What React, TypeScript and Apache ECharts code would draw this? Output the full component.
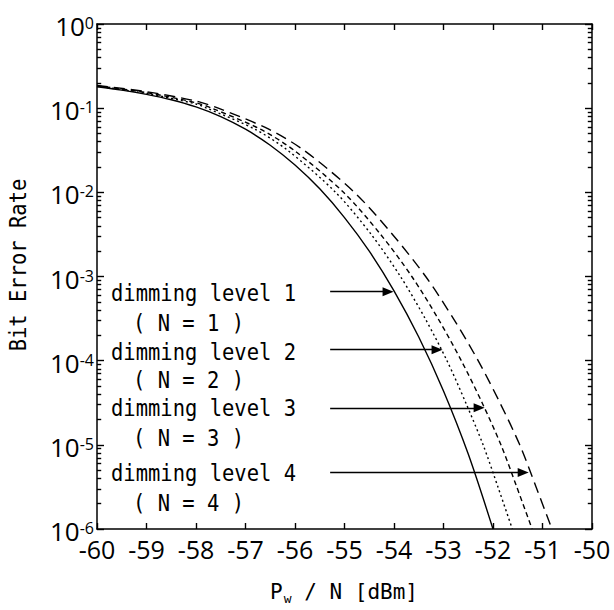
import React, { useEffect, useRef } from 'react';
import * as echarts from 'echarts';

// P_w / N [dBm] positions and read-off BER values for each dimming level
const X_N1 = [-60, -59.5, -59, -58.5, -58, -57.5, -57, -56.5, -56, -55.5, -55, -54.5, -54, -53.5, -53, -52.5, -52];
const BER_N1 = [0.18, 0.164, 0.146, 0.126, 0.1035, 0.0794, 0.0562, 0.0363, 0.0211, 0.011, 0.00501, 0.002, 6.76e-4, 1.91e-4, 4.37e-5, 7.76e-6, 1.0e-6];

const X_N2 = [-60, -59, -58, -57.78, -56.81, -56.15, -55.18, -54.46, -53.87, -53.37, -52.93, -52.55, -52.2, -51.9, -51.61];
const BER_N2 = [0.182, 0.1496, 0.1122, 0.1, 0.0562, 0.0316, 0.01, 0.00316, 0.001, 3.16e-4, 1.0e-4, 3.16e-5, 1.0e-5, 3.16e-6, 1.0e-6];

const X_N3 = [-60, -59, -58, -57.68, -56.7, -56.02, -55.02, -54.27, -53.64, -53.11, -52.64, -52.22, -51.84, -51.52, -51.21];
const BER_N3 = [0.184, 0.153, 0.116, 0.1, 0.0562, 0.0316, 0.01, 0.00316, 0.001, 3.16e-4, 1.0e-4, 3.16e-5, 1.0e-5, 3.16e-6, 1.0e-6];

const X_N4 = [-60, -59, -58, -57.55, -56.53, -55.82, -54.8, -54.03, -53.36, -52.8, -52.3, -51.86, -51.46, -51.13, -50.81];
const BER_N4 = [0.186, 0.157, 0.1216, 0.1, 0.0562, 0.0316, 0.01, 0.00316, 0.001, 3.16e-4, 1.0e-4, 3.16e-5, 1.0e-5, 3.16e-6, 1.0e-6];

// annotation arrows (data space)
const ARROW_BER = [6.6e-4, 1.35e-4, 2.75e-5, 4.7e-6];
const ARROW_X_START = -55.29;
const ARROW_X_END = [-54.12, -53.13, -52.28, -51.39];

const LEVEL_LABELS = ['dimming level 1', 'dimming level 2', 'dimming level 3', 'dimming level 4'];
const N_LABELS = ['( N = 1 )', '( N = 2 )', '( N = 3 )', '( N = 4 )'];

const X_MIN = -60;
const X_MAX = -50;
const Y_MIN = 1e-6;
const Y_MAX = 1;
const DECADES = [-6, -5, -4, -3, -2, -1];
const MINOR_MULT = [2, 3, 4, 5, 6, 7, 8, 9];
const MINOR_LEN = 0.085; // minor tick length, in dB along x

const TICK_FONT = 'Open Sans';
const MONO = 'DejaVu Sans Mono';

export default function App() {
  const ref = useRef<HTMLDivElement>(null);
  useEffect(() => {
    document.body.style.margin = '0';
    const chart = echarts.init(ref.current!, null, { renderer: 'svg' });

    const minorSegs: any[] = [];
    DECADES.forEach((d) =>
      MINOR_MULT.forEach((k) => {
        const v = k * Math.pow(10, d);
        minorSegs.push([{ coord: [X_MIN, v] }, { coord: [X_MIN + MINOR_LEN, v] }]);
        minorSegs.push([{ coord: [X_MAX, v] }, { coord: [X_MAX - MINOR_LEN, v] }]);
      })
    );

    const axisLine = { show: true, onZero: false, lineStyle: { color: '#000', width: 1.5 } };
    const tick = { show: true, inside: true, length: 6, lineStyle: { color: '#000', width: 1.4 } };

    const mkLine = (xs: number[], ys: number[], type: any) => ({
      type: 'line',
      data: xs.map((x, i) => [x, ys[i]]),
      symbol: 'none',
      showSymbol: false,
      smooth: 0.3,
      silent: true,
      clip: true,
      lineStyle: { color: '#000', width: 1.4, type },
    });

    const labelGraphics: any[] = [];
    const levelY = [293, 352, 408, 473];
    const nY = [323, 380, 438, 503];
    LEVEL_LABELS.forEach((t, i) => {
      labelGraphics.push({
        type: 'text', x: 111, y: levelY[i], scaleY: 1.1,
        style: { text: t, fontFamily: MONO, fontSize: 20.5, fill: '#000', align: 'left', verticalAlign: 'middle' },
      });
      labelGraphics.push({
        type: 'text', x: 133, y: nY[i], scaleY: 1.1,
        style: { text: N_LABELS[i], fontFamily: MONO, fontSize: 20.5, fill: '#000', align: 'left', verticalAlign: 'middle' },
      });
    });

    const s1: any = mkLine(X_N1, BER_N1, 'solid');
    s1.markLine = {
      silent: true,
      animation: false,
      symbol: ['none', 'triangle'],
      symbolSize: [9, 11],
      label: { show: false },
      lineStyle: { color: '#000', width: 1.3, type: 'solid' },
      emphasis: { disabled: true },
      data: ARROW_BER.map((b, i) => [{ coord: [ARROW_X_START, b] }, { coord: [ARROW_X_END[i], b] }]),
    };

    const s2: any = mkLine(X_N2, BER_N2, [2, 3]);
    s2.markLine = {
      silent: true,
      animation: false,
      symbol: ['none', 'none'],
      label: { show: false },
      lineStyle: { color: '#000', width: 1.4, type: 'solid' },
      emphasis: { disabled: true },
      data: minorSegs,
    };

    const option: any = {
      animation: false,
      grid: { left: 97, right: 22, top: 24, bottom: 81 },
      xAxis: [
        {
          type: 'value', min: X_MIN, max: X_MAX, interval: 1, position: 'bottom',
          axisLine, axisTick: tick, splitLine: { show: false },
          axisLabel: { color: '#000', fontFamily: TICK_FONT, fontSize: 25, lineHeight: 20, margin: 10 },
        },
        {
          type: 'value', min: X_MIN, max: X_MAX, interval: 1, position: 'top',
          axisLine, axisTick: tick, splitLine: { show: false }, axisLabel: { show: false },
        },
      ],
      yAxis: [
        {
          type: 'log', logBase: 10, min: Y_MIN, max: Y_MAX, position: 'left',
          axisLine, axisTick: { ...tick, length: 7 }, splitLine: { show: false },
          axisLabel: {
            margin: 3,
            formatter: (v: number) => `{b|10}{s|${Math.round(Math.log10(v))}}`,
            rich: {
              b: { fontFamily: TICK_FONT, fontSize: 26, color: '#000', lineHeight: 18, padding: [4, 0, 0, 0] },
              s: { fontFamily: TICK_FONT, fontSize: 16, color: '#000', verticalAlign: 'top', lineHeight: 14 },
            },
          },
        },
        {
          type: 'log', logBase: 10, min: Y_MIN, max: Y_MAX, position: 'right',
          axisLine, axisTick: { ...tick, length: 7 }, splitLine: { show: false }, axisLabel: { show: false },
        },
      ],
      series: [
        s1,
        s2,
        mkLine(X_N3, BER_N3, [5, 3.5]),
        mkLine(X_N4, BER_N4, [11, 6]),
      ],
      graphic: [
        {
          type: 'text', x: 18, y: 265, rotation: Math.PI / 2, scaleY: 1.1,
          style: { text: 'Bit Error Rate', fontFamily: MONO, fontSize: 20.5, fill: '#000', align: 'center', verticalAlign: 'middle' },
        },
        {
          type: 'text', x: 344, y: 592,
          style: {
            text: '{a|P}{w|w}{a| / N [dBm]}',
            align: 'center', verticalAlign: 'middle',
            rich: {
              a: { fontFamily: MONO, fontSize: 21, fill: '#000', lineHeight: 22, verticalAlign: 'top' },
              w: { fontFamily: MONO, fontSize: 13, fill: '#000', lineHeight: 13, verticalAlign: 'top', padding: [11, 0, 0, 1] },
            },
          },
        },
        ...labelGraphics,
      ],
    };
    chart.setOption(option);
    return () => chart.dispose();
  }, []);
  return <div ref={ref} style={{ width: 614, height: 610 }} />;
}
